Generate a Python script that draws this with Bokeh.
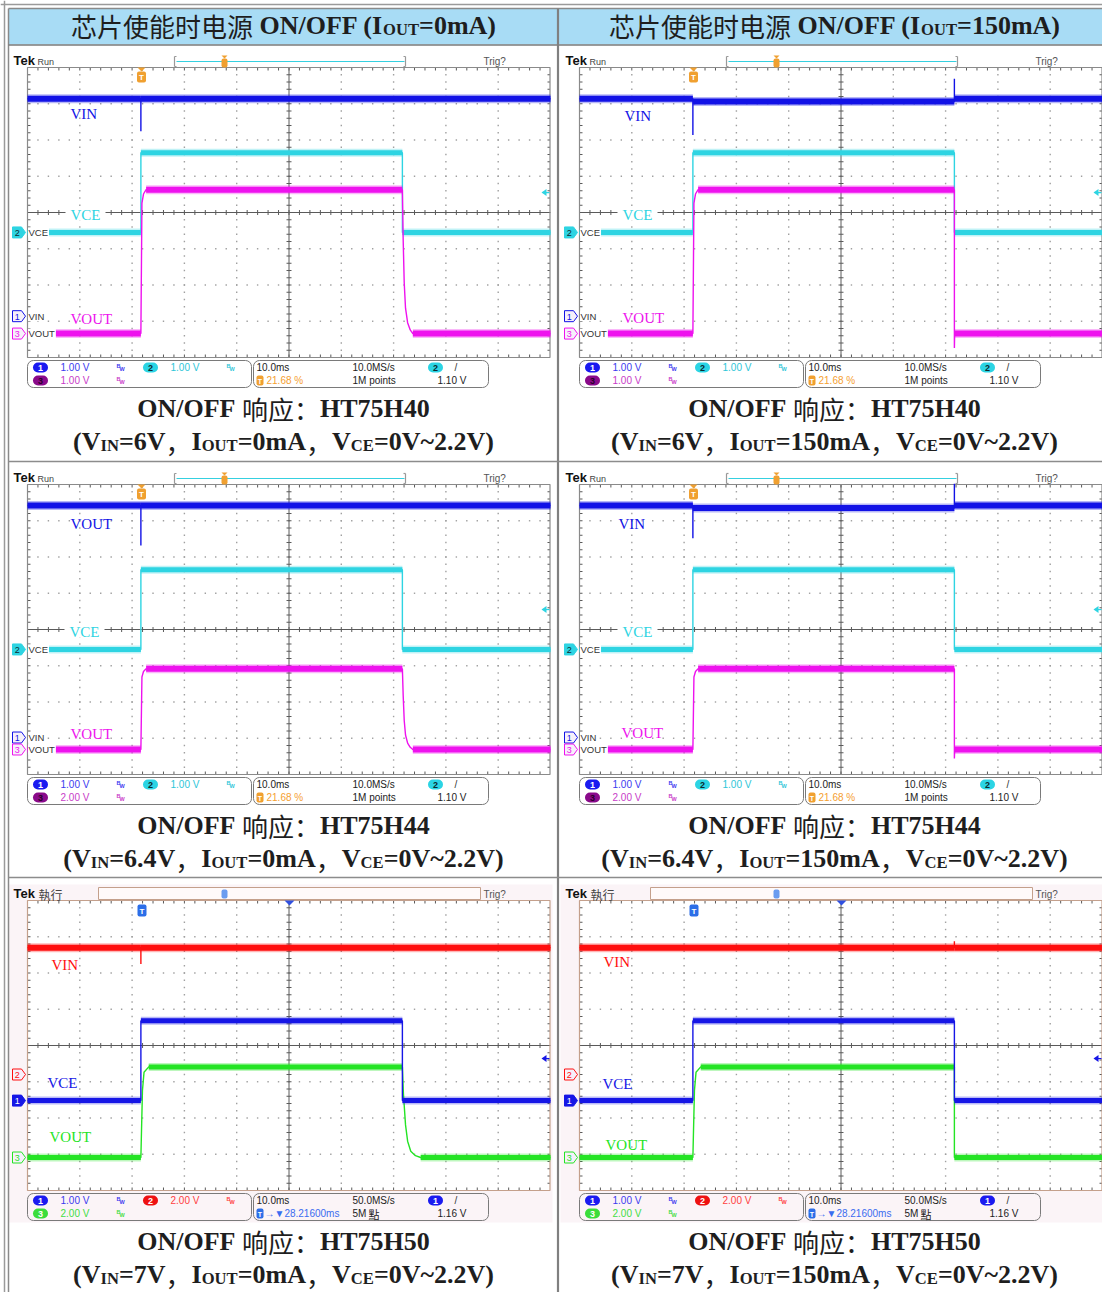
import numpy as np
from collections import defaultdict
from bokeh.plotting import figure
from bokeh.models import Range1d, ColumnDataSource
from bokeh.core.properties import value
from bokeh.embed import file_html
from bokeh.resources import INLINE

# ---------------- values ----------------
header_iout = ["0mA", "150mA"]
devices = ["HT75H40", "HT75H40", "HT75H44", "HT75H44", "HT75H50", "HT75H50"]
vin_labels = ["6V", "6V", "6.4V", "6.4V", "7V", "7V"]
iout_labels = ["0mA", "150mA", "0mA", "150mA", "0mA", "150mA"]
vce_label = "0V~2.2V"

time_per_div = 10.0          # ms / div
trigger_pos_pct = 21.68      # % of record before trigger
sample_rate = ["10.0MS/s", "10.0MS/s", "50.0MS/s"]
record_len = ["1M points", "1M points", "5M"]
h_delay = "28.21600ms"

# per scope row: which signal sits on channel 1, 2, 3
row_signals = [["VIN", "VCE", "VOUT"], ["VIN", "VCE", "VOUT"], ["VCE", "VIN", "VOUT"]]
volts_per_div = [[1.0, 1.0, 1.0], [1.0, 1.0, 2.0], [1.0, 2.0, 2.0]]
ch_offset_div = [[-2.86, -0.55, -3.34], [-2.98, -0.55, -3.31], [-1.52, -0.80, -3.09]]
trig_channel = [2, 2, 1]
trig_level = [1.10, 1.10, 1.16]

# waveforms : time (ms) / voltage (V)
p1_vin_t = [-21.68, 0.0, 0.0, 0.0, 78.32]
p1_vin_v = [6.0, 6.0, 5.1, 6.0, 6.0]
p1_vce_t = [-21.68, 0.0, 0.0, 50.0, 50.0, 78.32]
p1_vce_v = [0.0, 0.0, 2.2, 2.2, 0.0, 0.0]
p1_vout_t = [-21.68, 0.0, 0.2, 0.5, 1.0, 50.0, 50.15, 50.35, 50.6, 51.0, 51.5, 52.0, 78.32]
p1_vout_v = [0.0, 0.0, 3.6, 3.85, 3.97, 3.97, 2.6, 1.4, 0.7, 0.3, 0.1, 0.0, 0.0]

p2_vin_t = [-21.68, 0.0, 0.0, 0.0, 50.0, 50.0, 50.0, 78.32]
p2_vin_v = [6.0, 6.0, 5.0, 5.92, 5.92, 6.55, 6.0, 6.0]
p2_vce_t = [-21.68, 0.0, 0.0, 50.0, 50.0, 78.32]
p2_vce_v = [0.0, 0.0, 2.2, 2.2, 0.0, 0.0]
p2_vout_t = [-21.68, 0.0, 0.2, 0.5, 1.0, 50.0, 50.0, 50.05, 78.32]
p2_vout_v = [0.0, 0.0, 3.6, 3.85, 3.97, 3.97, -0.4, 0.0, 0.0]

p3_vin_t = [-21.68, 0.0, 0.0, 0.0, 78.32]
p3_vin_v = [6.4, 6.4, 5.3, 6.4, 6.4]
p3_vce_t = [-21.68, 0.0, 0.0, 50.0, 50.0, 78.32]
p3_vce_v = [0.0, 0.0, 2.2, 2.2, 0.0, 0.0]
p3_vout_t = [-21.68, 0.0, 0.2, 0.5, 1.0, 50.0, 50.15, 50.35, 50.6, 51.0, 51.5, 52.0, 78.32]
p3_vout_v = [0.0, 0.0, 4.0, 4.3, 4.45, 4.45, 3.0, 1.6, 0.8, 0.35, 0.12, 0.0, 0.0]

p4_vin_t = [-21.68, 0.0, 0.0, 0.0, 50.0, 50.0, 50.0, 78.32]
p4_vin_v = [6.4, 6.4, 5.5, 6.33, 6.33, 7.0, 6.4, 6.4]
p4_vce_t = [-21.68, 0.0, 0.0, 50.0, 50.0, 78.32]
p4_vce_v = [0.0, 0.0, 2.2, 2.2, 0.0, 0.0]
p4_vout_t = [-21.68, 0.0, 0.2, 0.5, 1.0, 50.0, 50.0, 50.05, 78.32]
p4_vout_v = [0.0, 0.0, 4.0, 4.3, 4.45, 4.45, -0.5, 0.0, 0.0]

p5_vin_t = [-21.68, 0.0, 0.0, 0.0, 78.32]
p5_vin_v = [7.0, 7.0, 6.1, 7.0, 7.0]
p5_vce_t = [-21.68, 0.0, 0.0, 50.0, 50.0, 78.32]
p5_vce_v = [0.0, 0.0, 2.2, 2.2, 0.0, 0.0]
p5_vout_t = [-21.68, 0.0, 0.3, 0.6, 1.5, 50.0, 50.2, 50.6, 51.0, 51.6, 52.5, 53.5, 78.32]
p5_vout_v = [0.0, 0.0, 3.7, 4.7, 5.0, 5.0, 3.5, 1.8, 0.9, 0.35, 0.1, 0.0, 0.0]

p6_vin_t = [-21.68, 50.0, 50.0, 50.0, 78.32]
p6_vin_v = [7.0, 7.0, 7.35, 7.0, 7.0]
p6_vce_t = [-21.68, 0.0, 0.0, 50.0, 50.0, 78.32]
p6_vce_v = [0.0, 0.0, 2.2, 2.2, 0.0, 0.0]
p6_vout_t = [-21.68, 0.0, 0.3, 0.6, 1.5, 50.0, 50.0, 78.32]
p6_vout_v = [0.0, 0.0, 3.7, 4.7, 5.0, 5.0, 0.0, 0.0]

panel_waves = [
    {"VIN": (p1_vin_t, p1_vin_v), "VCE": (p1_vce_t, p1_vce_v), "VOUT": (p1_vout_t, p1_vout_v)},
    {"VIN": (p2_vin_t, p2_vin_v), "VCE": (p2_vce_t, p2_vce_v), "VOUT": (p2_vout_t, p2_vout_v)},
    {"VIN": (p3_vin_t, p3_vin_v), "VCE": (p3_vce_t, p3_vce_v), "VOUT": (p3_vout_t, p3_vout_v)},
    {"VIN": (p4_vin_t, p4_vin_v), "VCE": (p4_vce_t, p4_vce_v), "VOUT": (p4_vout_t, p4_vout_v)},
    {"VIN": (p5_vin_t, p5_vin_v), "VCE": (p5_vce_t, p5_vce_v), "VOUT": (p5_vout_t, p5_vout_v)},
    {"VIN": (p6_vin_t, p6_vin_v), "VCE": (p6_vce_t, p6_vce_v), "VOUT": (p6_vout_t, p6_vout_v)},
]
# annotation text written next to the VIN, VCE, VOUT traces
panel_tags = [["VIN", "VCE", "VOUT"], ["VIN", "VCE", "VOUT"], ["VOUT", "VCE", "VOUT"],
              ["VIN", "VCE", "VOUT"], ["VIN", "VCE", "VOUT"], ["VIN", "VCE", "VOUT"]]

# ---------------- layout / style ----------------
W, H = 1102, 1292
GX = [27, 579]
GY = [67, 484, 900]
GW, GH = 523, 290
DX, DY = GW / 10, GH / 8
COLX = [283, 834]
tag_pos = [
    [(43, 46), (43, 147), (43, 251)],
    [(45, 48), (43, 147), (43, 250)],
    [(43, 39), (42, 147), (43, 249)],
    [(39, 39), (43, 147), (42, 248)],
    [(24, 64), (20, 182), (22, 236)],
    [(24, 61), (23, 183), (26, 244)],
]
row_colors = [["#1212e6", "#2ed4e2", "#ee12ee"],
              ["#1212e6", "#2ed4e2", "#ee12ee"],
              ["#1616e6", "#ff0e0e", "#24e424"]]
row_band = [[6, 5, 6], [6, 5, 6], [5, 6, 5]]
pill_fill = [["#1a1af0", "#2bd4e4", "#8a0a8a"], ["#1a1af0", "#2bd4e4", "#8a0a8a"],
             ["#1a1af0", "#ee1111", "#3bdd3b"]]
pill_txt = [["white", "#0c2a30", "#2a002a"], ["white", "#0c2a30", "#2a002a"],
            ["white", "white", "white"]]
val_col = [["#3b3bef", "#2ec6d8", "#c83cc8"], ["#3b3bef", "#2ec6d8", "#c83cc8"],
           ["#3b3bef", "#ff4040", "#44dd44"]]

SANS = "Liberation Sans"
SERIF = "Liberation Serif"
CJK_SC = "Noto Sans CJK SC"
CJK_TC = "Noto Sans CJK TC"

p = figure(width=W, height=H, x_range=Range1d(0, W), y_range=Range1d(H, 0),
           output_backend="svg", toolbar_location=None, min_border=0,
           x_axis_location=None, y_axis_location=None)
p.grid.grid_line_color = None
p.outline_line_color = None
p.background_fill_color = "white"
p.border_fill_color = "white"

texts = defaultdict(lambda: {"x": [], "y": [], "text": []})


def T(x, y, s, size=10, font=SANS, color="#222", style="normal", align="left",
      baseline="middle"):
    d = texts[(size, font, color, style, align, baseline)]
    d["x"].append(x)
    d["y"].append(y)
    d["text"].append(s)


TB = {' ': 250, '(': 333, ')': 333, '/': 278, '=': 570, '~': 520, '.': 250, ',': 250,
      ':': 333, 'A': 722, 'C': 722, 'E': 667, 'F': 611, 'H': 778, 'I': 389, 'M': 944,
      'N': 722, 'O': 778, 'T': 667, 'U': 722, 'V': 722, 'a': 500, 'm': 833}
for d_ in "0123456789":
    TB[d_] = 500
LS = {'V': 667, 'I': 278, 'N': 722, 'C': 722, 'E': 667, 'O': 778, 'U': 722, 'T': 611}


def tw(s):
    return sum(TB.get(ch, 556) for ch in s)


def draw_runs(runs, cx, ymid, size=26, sub=0.64, color="#1e1e1e"):
    items, total = [], 0.0
    for txt, kind in runs:
        if kind == "cjk":
            w = size * len(txt)
        elif kind == "sub":
            w = tw(txt) * size * sub / 1000
        elif kind == "gap":
            w = size * txt
        else:
            w = tw(txt) * size / 1000
        items.append((txt, kind, w))
        total += w
    x = cx - total / 2
    for txt, kind, w in items:
        if kind == "cjk":
            T(x, ymid, txt, size, CJK_SC, color)
        elif kind == "sub":
            T(x, ymid + 3.5, txt, round(size * sub, 1), SERIF, color, "bold")
        elif kind == "lat":
            T(x, ymid, txt, size, SERIF, color, "bold")
        x += w


# ---------------- table background & lines ----------------
p.quad(left=8.5, right=W, top=8.5, bottom=44, fill_color="#a8dcf5", line_color=None)
p.quad(left=[GX[0] - 19, GX[1] - 19], right=[GX[0] + 525, W], top=GY[2] - 16,
       bottom=GY[2] + 322, fill_color="#fbf4f7", line_color=None)
p.quad(left=[GX[0], GX[1]], right=[GX[0] + GW, GX[1] + GW], top=GY[2], bottom=GY[2] + GH,
       fill_color="white", line_color=None)

p.segment(x0=[4, 8, 0, 8, 8, 557.5, 8, 8], y0=[0, 8, 4, 8, 44.5, 8, 461, 877],
          x1=[4, 8, W, W, W, 557.5, W, W], y1=[H, H, 4, 8, 44.5, H, 461, 877],
          line_color=["#9a9a9a", "#8a8a8a", "#9a9a9a", "#8a8a8a", "#7a7a7a", "#808080",
                      "#8c8c8c", "#8c8c8c"],
          line_width=[1.5, 1.5, 1.5, 1.5, 1.5, 2.2, 1.5, 1.5])

# ---------------- scope grids ----------------
dots_x, dots_y = [], []
tk = {"x0": [], "y0": [], "x1": [], "y1": []}
frames = {"l": [], "r": [], "t": [], "b": [], "c": []}
for r in range(3):
    for c in range(2):
        gx, gy = GX[c], GY[r]
        for k in range(1, 10):
            if k == 5:
                continue
            for j in range(1, 40):
                dots_x.append(gx + k * DX)
                dots_y.append(gy + j * DY / 5)
        for m in range(1, 8):
            if m == 4:
                continue
            for i in range(1, 50):
                dots_x.append(gx + i * DX / 5)
                dots_y.append(gy + m * DY)
        cx, cy = gx + 5 * DX, gy + 4 * DY
        for i in range(1, 50):
            x = gx + i * DX / 5
            for a, b in ((cy - 2.5, cy + 2.5), (gy, gy + 3), (gy + GH - 3, gy + GH)):
                tk["x0"].append(x); tk["x1"].append(x); tk["y0"].append(a); tk["y1"].append(b)
        for j in range(1, 40):
            y = gy + j * DY / 5
            for a, b in ((cx - 2.5, cx + 2.5), (gx, gx + 3), (gx + GW - 3, gx + GW - 0.5)):
                tk["x0"].append(a); tk["x1"].append(b); tk["y0"].append(y); tk["y1"].append(y)
        tk["x0"] += [gx, cx]; tk["x1"] += [gx + GW, cx]
        tk["y0"] += [cy, gy]; tk["y1"] += [cy, gy + GH]
        frames["l"].append(gx); frames["r"].append(gx + GW - 0.5)
        frames["t"].append(gy); frames["b"].append(gy + GH)
        frames["c"].append("#c4a08c" if r == 2 else "#8a8a8a")

p.scatter(dots_x, dots_y, marker="square", size=1.4, fill_color="#a0a0a0", line_color=None)
p.segment(x0="x0", y0="y0", x1="x1", y1="y1", source=ColumnDataSource(tk),
          line_color="#5a5a5a", line_width=1)
p.quad(left="l", right="r", top="t", bottom="b", source=ColumnDataSource(frames),
       fill_color=None, line_color="c", line_width=1.2)

# ---------------- waveforms (through each screen's own ranges) ----------------
span = 10 * time_per_div
t_left = -trigger_pos_pct / 100 * span
for r in range(3):
    for c in range(2):
        n = r * 2 + c
        gx, gy = GX[c], GY[r]
        kx, ky = span / GW, 8 / GH
        xn, yn = f"t{n}", f"d{n}"
        p.extra_x_ranges[xn] = Range1d(t_left - gx * kx, t_left + (W - gx) * kx)
        p.extra_y_ranges[yn] = Range1d(4 - (H - gy) * ky, 4 + gy * ky)
        order = [2, 1, 0] if r == 2 else [0, 1, 2]
        for ch in order:
            sig = row_signals[r][ch]
            t, v = panel_waves[n][sig]
            t = np.asarray(t, float)
            v = np.asarray(v, float)
            y = ch_offset_div[r][ch] + v / volts_per_div[r][ch]
            col = row_colors[r][ch]
            bw = row_band[r][ch]
            p.line(t, y, line_color=col, line_width=1.4, x_range_name=xn, y_range_name=yn)
            flat = np.array([i for i in range(len(t) - 1) if v[i] == v[i + 1] and t[i + 1] > t[i]])
            p.segment(t[flat], y[flat], t[flat + 1], y[flat], line_color=col, line_width=bw + 3,
                      line_alpha=0.3, x_range_name=xn, y_range_name=yn)
            p.segment(t[flat], y[flat], t[flat + 1], y[flat], line_color=col, line_width=bw,
                      x_range_name=xn, y_range_name=yn)

# ---------------- scope chrome ----------------
mk = {"xs": [], "ys": [], "f": [], "l": []}
tri = {"xs": [], "ys": [], "f": []}
seg = {"x0": [], "y0": [], "x1": [], "y1": [], "c": []}
quads = {k: {"l": [], "r": [], "t": [], "b": [], "f": [], "lc": []} for k in (0, 2, 5, 6)}
wbg = {"l": [], "r": [], "t": [], "b": []}


def Q(l, r_, t, b, f, lc=None, rad=0):
    d = quads[rad]
    d["l"].append(l); d["r"].append(r_); d["t"].append(t); d["b"].append(b)
    d["f"].append(f); d["lc"].append(lc)


def S(x0, y0, x1, y1, c):
    seg["x0"].append(x0); seg["y0"].append(y0); seg["x1"].append(x1); seg["y1"].append(y1)
    seg["c"].append(c)


def WB(l, r_, t, b):
    wbg["l"].append(l); wbg["r"].append(r_); wbg["t"].append(t); wbg["b"].append(b)


for r in range(3):
    for c in range(2):
        n = r * 2 + c
        gx, gy = GX[c], GY[r]
        gb = gy + GH
        h50 = r == 2
        # title strip
        T(gx - 14, gy - 7, "Tek", 13, SANS, "#111", "bold")
        if h50:
            T(gx + 11, gy - 6, "執行", 12, CJK_TC, "#444")
            Q(gx + 71, gx + 453, gy - 13, gy - 1, "#fffafa", "#c4a08c")
            S(gx + 149, gy - 7, gx + 377, gy - 7, "#3050e0")
            for bx, d in ((gx + 147, 2), (gx + 378, -2)):
                S(bx, gy - 11, bx, gy - 3, "#222")
                S(bx, gy - 11, bx + d, gy - 11, "#222")
                S(bx, gy - 3, bx + d, gy - 3, "#222")
            Q(gx + 194, gx + 200, gy - 11, gy - 2, "#6a9cf0", None, 2)
            tri["xs"].append([gx + 259, gx + 265, gx + 262]); tri["ys"].append([gy - 13, gy - 13, gy - 10]); tri["f"].append("#3050e0")
            tri["xs"].append([gx + 257, gx + 267, gx + 262]); tri["ys"].append([gy, gy, gy + 5]); tri["f"].append("#3050e0")
            Q(gx + 110, gx + 119, gy + 4, gy + 16, "#2c6ee8", None, 2)
            T(gx + 114.5, gy + 10.5, "T", 8, SANS, "white", "bold", "center")
        else:
            T(gx + 10, gy - 6, "Run", 9, SANS, "#444")
            S(gx + 149, gy - 6, gx + 377, gy - 6, "#35d0e0")
            for bx, d in ((gx + 147, 2), (gx + 378, -2)):
                S(bx, gy - 11, bx, gy - 1, "#999")
                S(bx, gy - 11, bx + d, gy - 11, "#999")
                S(bx, gy - 1, bx + d, gy - 1, "#999")
            tri["xs"].append([gx + 194, gx + 200, gx + 197]); tri["ys"].append([gy - 12, gy - 12, gy - 9]); tri["f"].append("#f0a030")
            Q(gx + 194, gx + 200, gy - 9, gy, "#f0a030", None, 2)
            tri["xs"].append([gx + 110, gx + 118, gx + 114]); tri["ys"].append([gy, gy, gy + 4]); tri["f"].append("#f0a030")
            Q(gx + 109.5, gx + 118.5, gy + 4, gy + 15, "#f0a030", None, 2)
            T(gx + 114, gy + 10, "T", 8, SANS, "white", "bold", "center")
        T(gx + 456, gy - 6, "Trig?", 10, SANS, "#555")

        # trigger level arrow on the right
        tch = trig_channel[r] - 1
        ty = gy + (4 - (ch_offset_div[r][tch] + trig_level[r] / volts_per_div[r][tch])) * DY
        tcol = row_colors[r][tch]
        tri["xs"].append([gx + GW - 9, gx + GW - 4, gx + GW - 4]); tri["ys"].append([ty, ty - 3.5, ty + 3.5]); tri["f"].append(tcol)
        S(gx + GW - 5, ty, gx + GW - 1, ty, tcol)

        # channel ground markers on the left
        for ch in range(3):
            yc = gy + (4 - ch_offset_div[r][ch]) * DY
            x0 = gx - 15
            mk["xs"].append([x0, x0 + 9, x0 + 13, x0 + 9, x0])
            mk["ys"].append([yc - 5.5, yc - 5.5, yc, yc + 5.5, yc + 5.5])
            col = row_colors[r][ch]
            filled = (not h50 and ch == 1) or (h50 and ch == 0)
            mk["f"].append(col if filled else "#f6f0fa")
            mk["l"].append(col)
            tc = "#0c2a30" if (filled and not h50) else ("white" if filled else col)
            T(x0 + 4.8, yc + 0.5, str(ch + 1), 9, SANS, tc, "normal", "center")
            if not h50:
                name = row_signals[r][ch]
                wname = sum(LS[ch_] for ch_ in name) * 9.5 / 1000
                WB(gx + 0.5, gx + 2 + wname, yc - 5, yc + 5)
                T(gx + 1, yc, name, 9.5, SANS, "#333")

        # annotation tags next to traces
        for si, sig in enumerate(["VIN", "VCE", "VOUT"]):
            ch = row_signals[r].index(sig)
            dx_, dy_ = tag_pos[n][si]
            if sig == "VCE" and not h50:
                WB(gx + dx_ - 5, gx + dx_ + 35, gy + dy_ - 6, gy + dy_ + 6)
            T(gx + dx_, gy + dy_, panel_tags[n][si], 15, SERIF, row_colors[r][ch])

        # info bar
        Q(gx, gx + 224, gb + 3, gb + 30, None, "#7a7a7a", 6)
        Q(gx + 226, gx + 461, gb + 3, gb + 30, None, "#7a7a7a", 6)
        y1, y2 = gb + 10, gb + 23
        slots = [(gx + 13, y1), (gx + 123, y1), (gx + 13, y2)]
        for ch in range(3):
            px, py = slots[ch]
            Q(px - 7.5, px + 7.5, py - 5, py + 5, pill_fill[r][ch], None, 5)
            T(px, py + 0.5, str(ch + 1), 9, SANS, pill_txt[r][ch], "bold", "center")
            T(px + 20, py, f"{volts_per_div[r][ch]:.2f} V", 10, SANS, val_col[r][ch])
            T(px + 76, py - 1.5, "B", 5.5, SANS, val_col[r][ch], "bold")
            T(px + 79, py + 1.5, "W", 5.5, SANS, val_col[r][ch], "bold")
        T(gx + 229, y1, f"{time_per_div:.1f}ms", 10, SANS, "#222")
        T(gx + 325, y1, sample_rate[r], 10, SANS, "#222")
        px = gx + 408
        Q(px - 7.5, px + 7.5, y1 - 5, y1 + 5, pill_fill[r][tch], None, 5)
        T(px, y1 + 0.5, str(tch + 1), 9, SANS, pill_txt[r][tch], "bold", "center")
        T(px + 19, y1, "/", 10, SANS, "#333")
        T(gx + 410, y2, f"{trig_level[r]:.2f} V", 10, SANS, "#222")
        T(gx + 325, y2, record_len[r], 10, SANS, "#222")
        if h50:
            T(gx + 341, y2, "點", 11, CJK_TC, "#222")
            Q(gx + 229, gx + 236, y2 - 5, y2 + 5, "#2c6ee8", None, 2)
            T(gx + 232.5, y2 + 0.5, "T", 7, SANS, "white", "bold", "center")
            T(gx + 237, y2, "→▼" + h_delay, 10, SANS, "#3a6cf0")
        else:
            Q(gx + 229, gx + 236, y2 - 5, y2 + 5, "#f0a030", None, 2)
            T(gx + 232.5, y2 + 0.5, "T", 7, SANS, "white", "bold", "center")
            T(gx + 239, y2, f"{trigger_pos_pct:.2f} %", 10, SANS, "#f5a030")

        # captions
        cxm = COLX[c]
        draw_runs([("ON/OFF", "lat"), (0.25, "gap"), ("响应：", "cjk"), (devices[n], "lat")],
                  cxm, gy + 341)
        draw_runs([("(V", "lat"), ("IN", "sub"), ("=" + vin_labels[n], "lat"), ("，", "cjk"),
                   ("I", "lat"), ("OUT", "sub"), ("=" + iout_labels[n], "lat"), ("，", "cjk"),
                   ("V", "lat"), ("CE", "sub"), ("=" + vce_label + ")", "lat")], cxm, gy + 374)

# headers
for c in range(2):
    draw_runs([("芯片使能时电源", "cjk"), (0.25, "gap"), ("ON/OFF (I", "lat"), ("OUT", "sub"),
               ("=" + header_iout[c] + ")", "lat")], COLX[c], 25)

p.quad(left="l", right="r", top="t", bottom="b", fill_color="white", line_color=None,
       source=ColumnDataSource(wbg))
p.segment(x0="x0", y0="y0", x1="x1", y1="y1", line_color="c", line_width=1.2,
          source=ColumnDataSource(seg))
p.patches(xs="xs", ys="ys", fill_color="f", line_color=None, source=ColumnDataSource(tri))
p.patches(xs="xs", ys="ys", fill_color="f", line_color="l", line_width=1, source=ColumnDataSource(mk))
for rad, d in quads.items():
    if d["l"]:
        p.quad(left="l", right="r", top="t", bottom="b", fill_color="f", line_color="lc",
               border_radius=rad, source=ColumnDataSource(d))

for key, d in texts.items():
    size, font, color, style, align, baseline = key
    p.text(x="x", y="y", text="text", source=ColumnDataSource(d), text_font=value(font),
           text_font_size=f"{size}px", text_color=color, text_font_style=style,
           text_align=align, text_baseline=baseline)

open("out.html", "w").write(file_html(p, INLINE))
